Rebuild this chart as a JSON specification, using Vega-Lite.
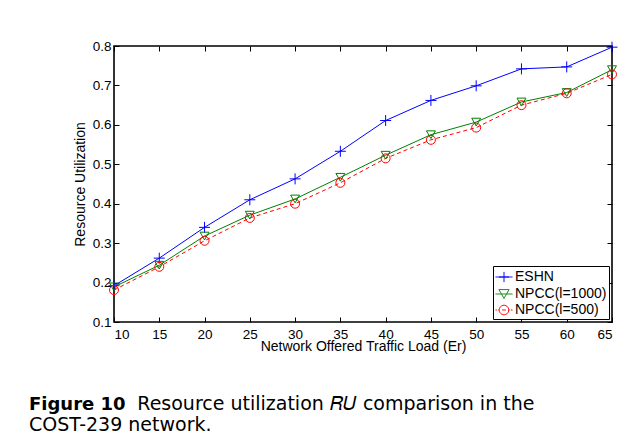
{
  "$schema": "https://vega.github.io/schema/vega-lite/v6.json",
  "width": 498,
  "height": 276,
  "autosize": {"type": "none"},
  "padding": {"left": 114, "top": 46, "right": 27, "bottom": 126},
  "background": "white",
  "title": {
    "text": "Figure 10",
    "subtitle": ["\u200b\u2003\u2003\u2003\u2003\u2003\u2002\u2009Resource utilization 𝑅𝑈 comparison in the", "COST-239 network."],
    "orient": "bottom",
    "anchor": "start",
    "frame": "group",
    "dx": -85,
    "offset": 42,
    "font": "DejaVu Sans",
    "fontSize": 18,
    "fontWeight": "bold",
    "color": "black",
    "subtitleFont": "DejaVu Sans",
    "subtitleFontSize": 19,
    "subtitleFontWeight": "normal",
    "subtitleColor": "black",
    "subtitlePadding": -19,
    "subtitleLineHeight": 21
  },
  "config": {
    "view": {"stroke": "black", "strokeWidth": 1.6},
    "axis": {
      "domain": false,
      "grid": false,
      "tickColor": "black",
      "tickSize": -5,
      "tickWidth": 1,
      "labelFont": "Liberation Sans",
      "labelFontSize": 13.5,
      "labelColor": "black",
      "titleFont": "Liberation Sans",
      "titleFontSize": 14,
      "titleFontWeight": "normal",
      "titleColor": "black"
    }
  },
  "data": {
    "values": [
      {"load": 10, "series": "ESHN", "ru": 0.192},
      {"load": 15, "series": "ESHN", "ru": 0.262},
      {"load": 20, "series": "ESHN", "ru": 0.340},
      {"load": 25, "series": "ESHN", "ru": 0.410},
      {"load": 30, "series": "ESHN", "ru": 0.463},
      {"load": 35, "series": "ESHN", "ru": 0.533},
      {"load": 40, "series": "ESHN", "ru": 0.611},
      {"load": 45, "series": "ESHN", "ru": 0.662},
      {"load": 50, "series": "ESHN", "ru": 0.699},
      {"load": 55, "series": "ESHN", "ru": 0.742},
      {"load": 60, "series": "ESHN", "ru": 0.747},
      {"load": 65, "series": "ESHN", "ru": 0.797},
      {"load": 10, "series": "NPCC(l=1000)", "ru": 0.189},
      {"load": 15, "series": "NPCC(l=1000)", "ru": 0.244},
      {"load": 20, "series": "NPCC(l=1000)", "ru": 0.318},
      {"load": 25, "series": "NPCC(l=1000)", "ru": 0.371},
      {"load": 30, "series": "NPCC(l=1000)", "ru": 0.412},
      {"load": 35, "series": "NPCC(l=1000)", "ru": 0.467},
      {"load": 40, "series": "NPCC(l=1000)", "ru": 0.523},
      {"load": 45, "series": "NPCC(l=1000)", "ru": 0.575},
      {"load": 50, "series": "NPCC(l=1000)", "ru": 0.607},
      {"load": 55, "series": "NPCC(l=1000)", "ru": 0.658},
      {"load": 60, "series": "NPCC(l=1000)", "ru": 0.682},
      {"load": 65, "series": "NPCC(l=1000)", "ru": 0.740},
      {"load": 10, "series": "NPCC(l=500)", "ru": 0.181},
      {"load": 15, "series": "NPCC(l=500)", "ru": 0.240},
      {"load": 20, "series": "NPCC(l=500)", "ru": 0.306},
      {"load": 25, "series": "NPCC(l=500)", "ru": 0.364},
      {"load": 30, "series": "NPCC(l=500)", "ru": 0.400},
      {"load": 35, "series": "NPCC(l=500)", "ru": 0.453},
      {"load": 40, "series": "NPCC(l=500)", "ru": 0.515},
      {"load": 45, "series": "NPCC(l=500)", "ru": 0.562},
      {"load": 50, "series": "NPCC(l=500)", "ru": 0.593},
      {"load": 55, "series": "NPCC(l=500)", "ru": 0.650},
      {"load": 60, "series": "NPCC(l=500)", "ru": 0.680},
      {"load": 65, "series": "NPCC(l=500)", "ru": 0.728}
    ]
  },
  "encoding": {
    "color": {
      "field": "series",
      "type": "nominal",
      "scale": {"domain": ["ESHN", "NPCC(l=1000)", "NPCC(l=500)"], "range": ["#0000ff", "#008000", "#ff0000"]},
      "legend": {
        "title": null,
        "orient": "bottom-right",
        "offset": 3,
        "padding": 2,
        "strokeColor": "black",
        "fillColor": "white",
        "cornerRadius": 0,
        "labelFont": "Liberation Sans",
        "labelFontSize": 14,
        "labelColor": "black",
        "labelOffset": 2,
        "symbolSize": 289,
        "symbolStrokeWidth": 1,
        "rowPadding": 0,
        "encode": {
          "symbols": {
            "update": {
              "shape": {"signal": "datum.value === 'ESHN' ? 'M-1,0H1M0,-0.6V0.6M-0.6,0H0.6' : datum.value === 'NPCC(l=1000)' ? 'M-1,0H1M-0.6,-0.52L0.6,-0.52L0,0.52Z' : 'M-1,0H-0.82M-0.68,0H-0.56M0.56,0H0.68M0.82,0H1M0.56,0A0.56,0.56 0 1,1 -0.56,0A0.56,0.56 0 1,1 0.56,0M-0.22,0H0.22'"},
              "fill": {"value": "transparent"},
              "strokeWidth": {"value": 1},
              "strokeDash": {"value": [1, 0]},
              "opacity": {"value": 1}
            }
          }
        }
      }
    }
  },
  "layer": [
    {
      "encoding": {
        "x": {
          "field": "load",
          "type": "quantitative",
          "scale": {"domain": [10, 65], "nice": false, "zero": false},
          "axis": {"orient": "bottom", "values": [10, 15, 20, 25, 30, 35, 40, 45, 50, 55, 60, 65], "labelPadding": 10, "title": "Network Offered Traffic Load (Er)", "titlePadding": -1}
        },
        "y": {
          "field": "ru",
          "type": "quantitative",
          "scale": {"domain": [0.1, 0.8], "nice": false, "zero": false},
          "axis": {"orient": "left", "values": [0.1, 0.2, 0.3, 0.4, 0.5, 0.6, 0.7, 0.8], "format": ".1f", "labelPadding": 8, "title": "Resource Utilization", "titlePadding": 5}
        }
      },
      "layer": [
        {
          "transform": [{"filter": "datum.series !== 'NPCC(l=500)'"}],
          "mark": {"type": "line", "strokeWidth": 1}
        },
        {
          "transform": [{"filter": "datum.series === 'NPCC(l=500)'"}],
          "mark": {"type": "line", "strokeWidth": 1, "strokeDash": [4, 3]}
        },
        {
          "transform": [{"filter": "datum.series === 'ESHN'"}],
          "mark": {"type": "point", "shape": "M-1,0H1M0,-1V1", "size": 121, "filled": false, "strokeWidth": 1, "opacity": 1}
        },
        {
          "transform": [{"filter": "datum.series === 'NPCC(l=1000)'"}],
          "mark": {"type": "point", "shape": "triangle-down", "size": 80, "filled": false, "strokeWidth": 1, "opacity": 1}
        }
      ]
    },
    {
      "transform": [{"filter": "datum.series === 'NPCC(l=500)'"}],
      "mark": {"type": "point", "shape": "circle", "size": 81, "filled": false, "strokeWidth": 1, "opacity": 1},
      "encoding": {
        "x": {
          "field": "load",
          "type": "quantitative",
          "scale": {"domain": [10, 65], "nice": false, "zero": false},
          "axis": {"orient": "top", "values": [10, 15, 20, 25, 30, 35, 40, 45, 50, 55, 60, 65], "labels": false, "title": null}
        },
        "y": {
          "field": "ru",
          "type": "quantitative",
          "scale": {"domain": [0.1, 0.8], "nice": false, "zero": false},
          "axis": {"orient": "right", "values": [0.1, 0.2, 0.3, 0.4, 0.5, 0.6, 0.7, 0.8], "labels": false, "title": null}
        }
      }
    }
  ],
  "resolve": {"axis": {"x": "independent", "y": "independent"}}
}
